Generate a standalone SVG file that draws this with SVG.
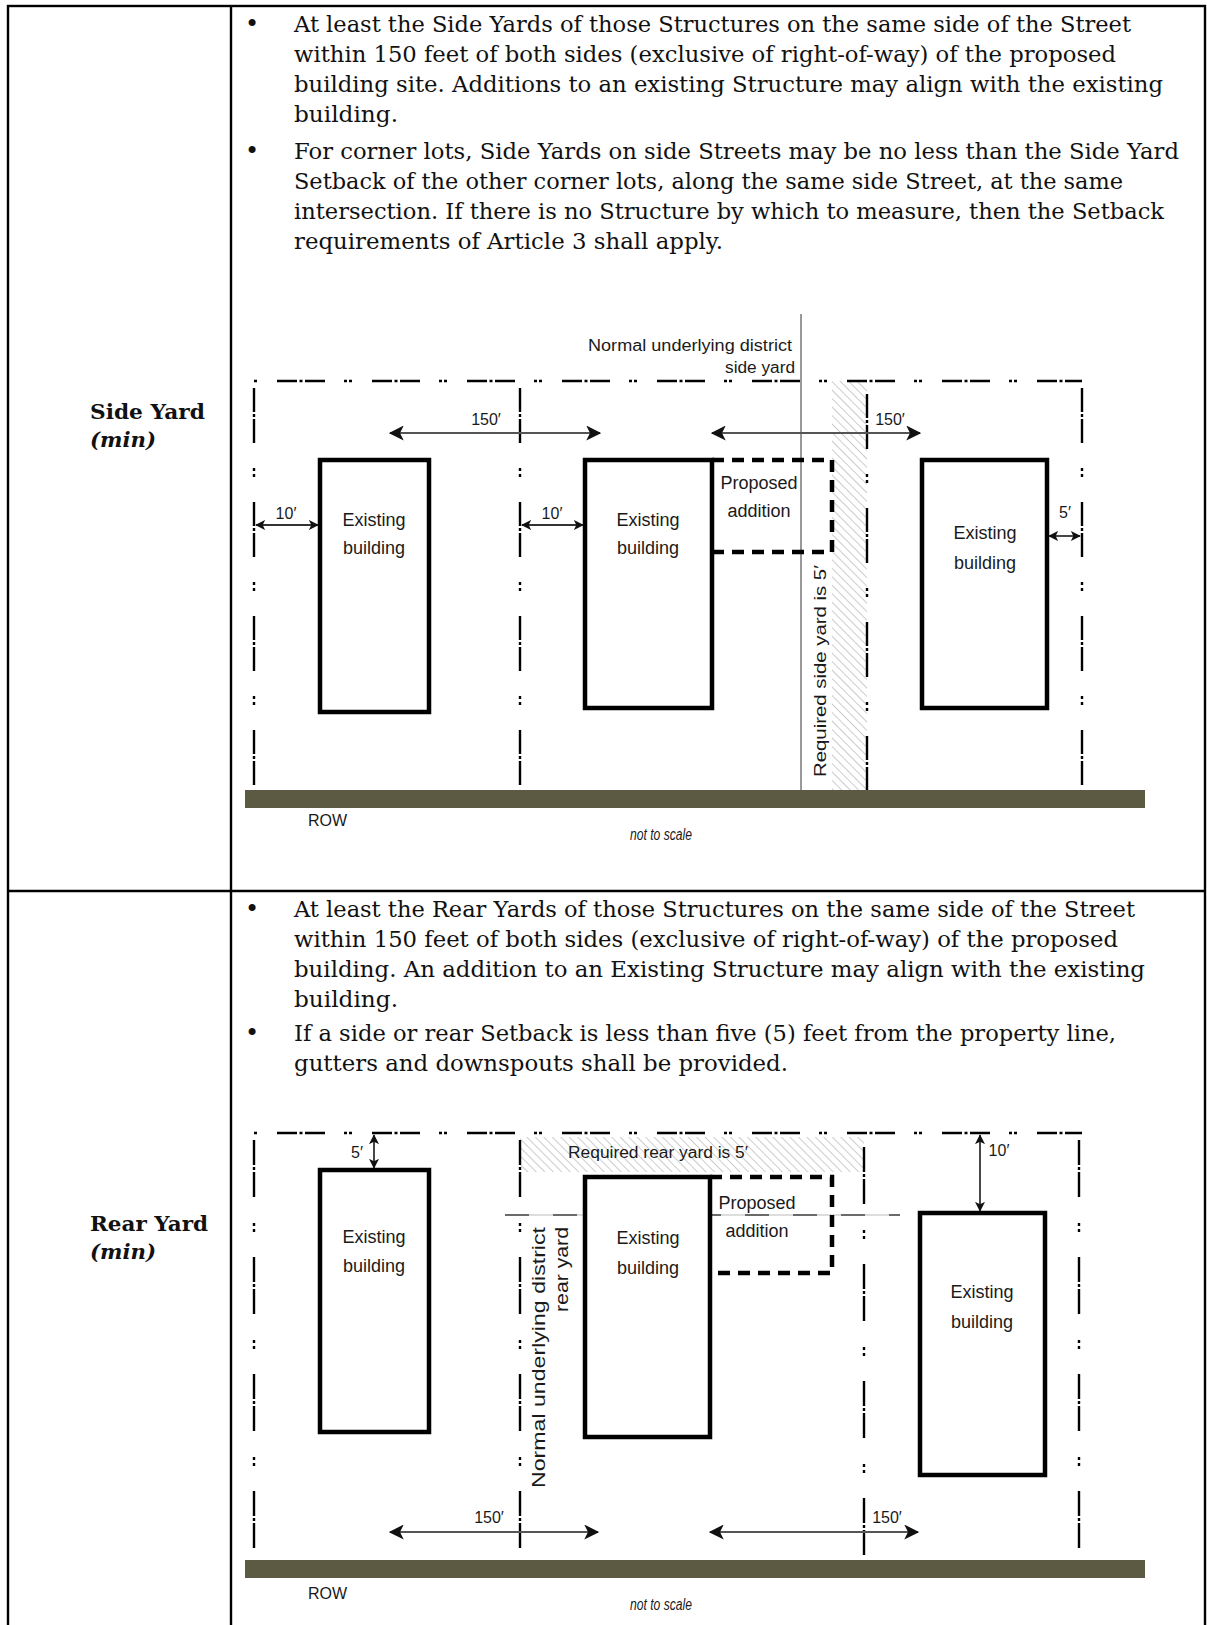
<svg xmlns="http://www.w3.org/2000/svg" width="1207" height="1625" viewBox="0 0 1207 1625">
<style>
.tx{font-family:"DejaVu Serif","Liberation Serif",serif;font-size:22.8px;fill:#111}
.bu{font-family:"DejaVu Serif","Liberation Serif",serif;font-size:24px;fill:#111;text-anchor:middle}
.lbl{font-family:"DejaVu Serif","Liberation Serif",serif;font-size:21px;font-weight:bold;fill:#111}
.lbi{font-family:"DejaVu Serif","Liberation Serif",serif;font-size:21px;font-weight:bold;font-style:italic;fill:#111}
.d{font-family:"Liberation Sans Narrow","Liberation Sans",sans-serif;font-size:18px;fill:#1a1a1a}
.ds{font-family:"Liberation Sans Narrow","Liberation Sans",sans-serif;font-size:16px;fill:#1a1a1a}
.c{text-anchor:middle}
.bld{fill:#fff;stroke:#000;stroke-width:4.5}
.prop{fill:none;stroke:#000;stroke-width:4.5;stroke-dasharray:12 8}
.hl{fill:none;stroke:#000;stroke-width:2.5;stroke-dasharray:20 2.5 3 2.5 20 19 3 2 3 20;stroke-dashoffset:72}
.v1{fill:none;stroke:#000;stroke-width:2.4;stroke-dasharray:24 2 3 2 24 25 3 3 3 25}
.v2{fill:none;stroke:#000;stroke-width:2.4;stroke-dasharray:25 2 3 2 25 26 3 3 3 25}
.arB{fill:none;stroke:#555;stroke-width:2;marker-start:url(#hb);marker-end:url(#hb)}
.arS{fill:none;stroke:#333;stroke-width:1.8;marker-start:url(#hs);marker-end:url(#hs)}
.row{fill:#5d5a44}
.grid{fill:none;stroke:#000;stroke-width:2.4}
</style>
<defs>
<marker id="hb" viewBox="0 0 12 12" refX="11" refY="6" markerWidth="15" markerHeight="15" markerUnits="userSpaceOnUse" orient="auto-start-reverse"><path d="M0,0 L12,6 L0,12 L3,6 Z" fill="#111"/></marker>
<marker id="hs" viewBox="0 0 12 12" refX="11" refY="6" markerWidth="10" markerHeight="10" markerUnits="userSpaceOnUse" orient="auto-start-reverse"><path d="M0,0 L12,6 L0,12 L3,6 Z" fill="#111"/></marker>
<pattern id="hatch" width="6" height="6" patternUnits="userSpaceOnUse" patternTransform="rotate(-45)"><line x1="0" y1="0" x2="0" y2="6" stroke="#9a9a9a" stroke-width="1"/></pattern>
</defs>

<g id="table">
<rect class="grid" x="8" y="6" width="1197" height="1630"/>
<line class="grid" x1="231" y1="6" x2="231" y2="1625"/>
<line class="grid" x1="8" y1="891" x2="1205" y2="891"/>
</g>

<g id="label-side">
<text class="lbl" x="90" y="419" textLength="115" lengthAdjust="spacingAndGlyphs">Side Yard</text>
<text class="lbi" x="90" y="447" textLength="66" lengthAdjust="spacingAndGlyphs">(min)</text>
</g>
<g id="label-rear">
<text class="lbl" x="90" y="1231" textLength="118" lengthAdjust="spacingAndGlyphs">Rear Yard</text>
<text class="lbi" x="90" y="1259" textLength="66" lengthAdjust="spacingAndGlyphs">(min)</text>
</g>

<g id="text-side">
<text class="bu" x="252" y="32">•</text>
<text class="tx" x="294" y="32" textLength="837" lengthAdjust="spacingAndGlyphs">At least the Side Yards of those Structures on the same side of the Street</text>
<text class="tx" x="294" y="62" textLength="822" lengthAdjust="spacingAndGlyphs">within 150 feet of both sides (exclusive of right-of-way) of the proposed</text>
<text class="tx" x="294" y="92" textLength="869" lengthAdjust="spacingAndGlyphs">building site. Additions to an existing Structure may align with the existing</text>
<text class="tx" x="294" y="122" textLength="104" lengthAdjust="spacingAndGlyphs">building.</text>
<text class="bu" x="252" y="159">•</text>
<text class="tx" x="294" y="159" textLength="885" lengthAdjust="spacingAndGlyphs">For corner lots, Side Yards on side Streets may be no less than the Side Yard</text>
<text class="tx" x="294" y="189" textLength="829" lengthAdjust="spacingAndGlyphs">Setback of the other corner lots, along the same side Street, at the same</text>
<text class="tx" x="294" y="219" textLength="870" lengthAdjust="spacingAndGlyphs">intersection. If there is no Structure by which to measure, then the Setback</text>
<text class="tx" x="294" y="249" textLength="429" lengthAdjust="spacingAndGlyphs">requirements of Article 3 shall apply.</text>
</g>

<g id="text-rear">
<text class="bu" x="252" y="917">•</text>
<text class="tx" x="294" y="917" textLength="841" lengthAdjust="spacingAndGlyphs">At least the Rear Yards of those Structures on the same side of the Street</text>
<text class="tx" x="294" y="947" textLength="824" lengthAdjust="spacingAndGlyphs">within 150 feet of both sides (exclusive of right-of-way) of the proposed</text>
<text class="tx" x="294" y="977" textLength="851" lengthAdjust="spacingAndGlyphs">building. An addition to an Existing Structure may align with the existing</text>
<text class="tx" x="294" y="1007" textLength="104" lengthAdjust="spacingAndGlyphs">building.</text>
<text class="bu" x="252" y="1041">•</text>
<text class="tx" x="294" y="1041" textLength="822" lengthAdjust="spacingAndGlyphs">If a side or rear Setback is less than five (5) feet from the property line,</text>
<text class="tx" x="294" y="1071" textLength="494" lengthAdjust="spacingAndGlyphs">gutters and downspouts shall be provided.</text>
</g>

<!-- Diagram 1: Side yard -->
<g id="side-diagram">
<rect id="side-hatch" x="832" y="381" width="35" height="409" fill="url(#hatch)"/>
<g id="side-lotlines">
<line class="hl" x1="254" y1="381" x2="1082" y2="381"/>
<line class="v1" x1="254" y1="388" x2="254" y2="790"/>
<line class="v1" x1="520" y1="388" x2="520" y2="790"/>
<line class="v1" x1="867" y1="394" x2="867" y2="793"/>
<line class="v1" x1="1082" y1="388" x2="1082" y2="790"/>
</g>
<line id="side-normal-line" x1="801" y1="314" x2="801" y2="793" stroke="#555" stroke-width="1.2"/>
<rect id="side-row" class="row" x="245" y="790" width="900" height="18"/>
<g id="side-b1"><rect class="bld" x="320" y="460" width="109" height="252"/>
<text class="d c" x="374" y="526">Existing</text><text class="d c" x="374" y="554">building</text></g>
<g id="side-b2"><rect class="bld" x="585" y="460" width="127" height="248"/>
<text class="d c" x="648" y="526">Existing</text><text class="d c" x="648" y="554">building</text></g>
<g id="side-prop"><path class="prop" d="M712,460 H832 V552 H712"/>
<text class="d c" x="759" y="489">Proposed</text><text class="d c" x="759" y="517">addition</text></g>
<g id="side-b3"><rect class="bld" x="922" y="460" width="125" height="248"/>
<text class="d c" x="985" y="539">Existing</text><text class="d c" x="985" y="569">building</text></g>
<g id="side-texts">
<text class="ds" x="792" y="351" text-anchor="end" textLength="204" lengthAdjust="spacingAndGlyphs">Normal underlying district</text>
<text class="ds" x="795" y="373" text-anchor="end" textLength="70" lengthAdjust="spacingAndGlyphs">side yard</text>
<text class="ds" transform="translate(826,777) rotate(-90)" font-size="18" textLength="212" lengthAdjust="spacingAndGlyphs">Required side yard is 5′</text>
<text class="ds c" x="486" y="425">150′</text>
<text class="ds c" x="890" y="425">150′</text>
<text class="ds c" x="286" y="519">10′</text>
<text class="ds c" x="552" y="519">10′</text>
<text class="ds c" x="1065" y="518">5′</text>
<text class="ds" x="308" y="826">ROW</text>
<text class="ds" x="630" y="840" font-style="italic" font-size="14" textLength="62" lengthAdjust="spacingAndGlyphs">not to scale</text>
</g>
<g id="side-connectors">
<line class="arB" x1="390" y1="433" x2="600" y2="433"/>
<line class="arB" x1="712" y1="433" x2="920" y2="433"/>
<line class="arS" x1="256" y1="525" x2="318" y2="525"/>
<line class="arS" x1="522" y1="525" x2="583" y2="525"/>
<line class="arS" x1="1049" y1="536" x2="1080" y2="536"/>
</g>
</g>

<!-- Diagram 2: Rear yard -->
<g id="rear-diagram">
<rect id="rear-hatch" x="520" y="1137" width="344" height="35" fill="url(#hatch)"/>
<g id="rear-lotlines">
<line class="hl" x1="254" y1="1133" x2="1082" y2="1133"/>
<line class="v2" x1="254" y1="1140" x2="254" y2="1555"/>
<line class="v2" x1="520" y1="1140" x2="520" y2="1555"/>
<line class="v2" x1="864" y1="1147" x2="864" y2="1562"/>
<line class="v2" x1="1079" y1="1140" x2="1079" y2="1555"/>
</g>
<g id="rear-normal-line">
<line x1="505" y1="1215" x2="900" y2="1215" stroke="#bbb" stroke-width="1"/>
<line x1="505" y1="1215" x2="900" y2="1215" stroke="#444" stroke-width="1.5" stroke-dasharray="24 24"/>
</g>
<rect id="rear-row" class="row" x="245" y="1560" width="900" height="18"/>
<g id="rear-b1"><rect class="bld" x="320" y="1170" width="109" height="262"/>
<text class="d c" x="374" y="1243">Existing</text><text class="d c" x="374" y="1272">building</text></g>
<g id="rear-b2"><rect class="bld" x="585" y="1177" width="125" height="260"/>
<text class="d c" x="648" y="1244">Existing</text><text class="d c" x="648" y="1274">building</text></g>
<g id="rear-prop"><path class="prop" d="M710,1177 H832 V1273 H710"/>
<text class="d c" x="757" y="1209">Proposed</text><text class="d c" x="757" y="1237">addition</text></g>
<g id="rear-b3"><rect class="bld" x="920" y="1213" width="125" height="262"/>
<text class="d c" x="982" y="1298">Existing</text><text class="d c" x="982" y="1328">building</text></g>
<g id="rear-texts">
<text class="ds" x="568" y="1158" font-size="17" textLength="180" lengthAdjust="spacingAndGlyphs">Required rear yard is 5′</text>
<text class="d" transform="translate(545,1488) rotate(-90)" font-size="20" textLength="261" lengthAdjust="spacingAndGlyphs">Normal underlying district</text>
<text class="d" transform="translate(568,1227) rotate(-90)" text-anchor="end" font-size="20" textLength="85" lengthAdjust="spacingAndGlyphs">rear yard</text>
<text class="ds c" x="357" y="1158">5′</text>
<text class="ds c" x="999" y="1156">10′</text>
<text class="ds c" x="489" y="1523">150′</text>
<text class="ds c" x="887" y="1523">150′</text>
<text class="ds" x="308" y="1599">ROW</text>
<text class="ds" x="630" y="1610" font-style="italic" font-size="14" textLength="62" lengthAdjust="spacingAndGlyphs">not to scale</text>
</g>
<g id="rear-connectors">
<line class="arS" x1="374" y1="1135" x2="374" y2="1168"/>
<line class="arS" x1="980" y1="1135" x2="980" y2="1211"/>
<line class="arB" x1="390" y1="1532" x2="598" y2="1532"/>
<line class="arB" x1="710" y1="1532" x2="918" y2="1532"/>
</g>
</g>
</svg>
